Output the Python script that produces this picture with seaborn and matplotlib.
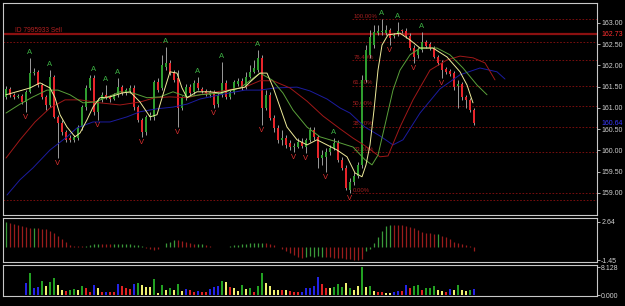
import numpy as np
import pandas as pd
import matplotlib
matplotlib.use("Agg")
import matplotlib.pyplot as plt
import seaborn as sns

# ---------------- data ----------------
opens = [161.26, 161.45, 161.31, 161.26, 161.28, 161.14, 161.38, 161.82, 161.85, 161.54,
         161.26, 161.07, 161.73, 160.79, 160.65, 160.44, 160.29, 160.25, 160.29, 160.55,
         161.02, 161.47, 161.71, 160.91, 161.19, 161.31, 161.26, 161.21, 161.31, 161.49,
         161.35, 161.40, 161.47, 161.02, 160.72, 160.44, 160.79, 160.79, 161.61, 161.47,
         161.96, 162.06, 161.82, 161.71, 161.00, 161.24, 161.49, 161.38, 161.59, 161.45,
         161.40, 161.31, 161.38, 161.09, 161.31, 161.59, 161.26, 161.38, 161.56, 161.64,
         161.49, 161.73, 161.85, 161.89, 162.18, 161.00, 161.31, 160.76, 160.53, 160.25,
         160.29, 160.18, 160.08, 160.08, 160.20, 160.08, 160.25, 160.48, 160.32, 159.82,
         159.85, 159.96, 160.06, 160.18, 159.78, 159.59, 159.07, 159.26, 159.40, 159.66,
         161.66, 162.25, 162.48, 162.76, 162.79, 162.76, 162.84, 162.69, 162.74, 162.81,
         162.81, 162.69, 162.41, 162.25, 162.36, 162.55, 162.51, 162.41, 162.20, 162.06,
         161.92, 161.87, 161.82, 161.52, 161.56, 161.26, 161.19, 160.95]
closes = [161.45, 161.31, 161.26, 161.28, 161.14, 161.38, 161.82, 161.85, 161.54, 161.26,
          161.07, 161.73, 160.79, 160.65, 160.44, 160.25, 160.25, 160.32, 160.55, 161.02,
          161.47, 161.71, 160.91, 161.19, 161.31, 161.26, 161.21, 161.31, 161.49, 161.35,
          161.42, 161.47, 161.02, 160.72, 160.44, 160.79, 160.84, 161.61, 161.42, 162.01,
          162.06, 161.82, 161.66, 161.00, 161.24, 161.49, 161.35, 161.59, 161.47, 161.40,
          161.35, 161.38, 161.07, 161.31, 161.59, 161.26, 161.38, 161.61, 161.64, 161.49,
          161.73, 161.85, 161.94, 162.18, 161.00, 161.31, 160.76, 160.53, 160.25, 160.29,
          160.13, 160.08, 160.11, 160.20, 160.11, 160.25, 160.48, 160.32, 159.82, 159.89,
          159.96, 160.06, 160.18, 159.78, 159.59, 159.12, 159.26, 159.40, 159.66, 161.66,
          162.36, 162.67, 162.79, 162.81, 162.81, 162.84, 162.65, 162.72, 162.81, 162.80,
          162.69, 162.41, 162.20, 162.36, 162.55, 162.46, 162.41, 162.20, 162.06, 161.89,
          161.85, 161.80, 161.49, 161.56, 161.26, 161.19, 160.95, 160.65]
highs = [161.52, 161.49, 161.35, 161.33, 161.33, 161.42, 162.18, 161.94, 161.89, 161.59,
         161.31, 161.89, 161.78, 160.84, 160.72, 160.48, 160.36, 160.36, 160.60, 161.07,
         161.54, 161.78, 161.78, 161.24, 161.38, 161.54, 161.31, 161.35, 161.71, 161.54,
         161.47, 161.54, 161.54, 161.07, 160.76, 160.84, 160.91, 161.66, 161.71, 162.25,
         162.44, 162.13, 161.89, 161.89, 161.28, 161.56, 161.56, 161.66, 161.73, 161.49,
         161.45, 161.42, 161.42, 161.35, 162.08, 161.66, 161.42, 161.66, 161.71, 161.71,
         161.85, 162.01, 162.13, 162.36, 162.25, 161.42, 161.38, 160.84, 160.60, 160.48,
         160.36, 160.25, 160.18, 160.29, 160.29, 160.29, 160.55, 160.55, 160.36, 160.01,
         160.06, 160.13, 160.29, 160.25, 159.85, 159.66, 159.35, 159.49, 159.73, 161.78,
         162.48, 162.84, 162.95, 162.95, 163.09, 162.95, 162.88, 162.76, 163.02, 162.86,
         162.88, 162.76, 162.48, 162.44, 162.79, 162.60, 162.55, 162.46, 162.25, 162.13,
         161.96, 161.92, 161.87, 161.66, 161.61, 161.31, 161.24, 161.00]
lows = [161.21, 161.26, 161.21, 161.24, 161.09, 160.91, 161.35, 161.78, 161.49, 161.21,
        160.95, 161.02, 160.76, 159.82, 160.36, 160.20, 160.20, 160.20, 160.25, 160.48,
        160.95, 161.42, 160.84, 160.72, 161.14, 161.21, 161.14, 161.19, 161.26, 161.31,
        161.31, 161.35, 160.95, 160.67, 160.32, 160.36, 160.72, 160.72, 161.38, 161.42,
        161.89, 161.78, 161.61, 160.55, 160.95, 161.19, 161.31, 161.33, 161.42, 161.35,
        161.28, 161.26, 161.00, 161.02, 161.26, 161.21, 161.21, 161.33, 161.52, 161.42,
        161.45, 161.71, 161.82, 161.85, 160.60, 160.95, 160.72, 160.44, 160.18, 160.13,
        160.06, 160.01, 159.96, 160.06, 160.06, 159.94, 160.20, 160.25, 159.59, 159.66,
        159.49, 159.89, 160.01, 159.73, 159.54, 159.07, 158.99, 159.19, 159.35, 159.59,
        161.61, 162.18, 162.41, 162.72, 162.72, 162.72, 162.48, 162.65, 162.69, 162.76,
        162.65, 162.36, 162.06, 162.18, 162.32, 162.41, 162.36, 162.18, 162.01, 161.71,
        161.80, 161.75, 161.42, 161.00, 161.19, 161.00, 160.91, 160.60]

up_fractals = [6, 11, 22, 25, 28, 40, 48, 54, 63, 82, 94, 98, 104]
down_fractals = [5, 13, 23, 34, 43, 52, 64, 72, 75, 80, 86, 96, 102, 109]

# moving-average lines (bar index, price)
fast_x = [0, 6, 8.5, 11, 12.25, 13.5, 15.25, 17.25, 18.5, 20.25, 21.75, 23.5, 26, 29, 31, 33.5, 36,
          37.75, 39.75, 41, 42.75, 44, 45.25, 47.75, 51, 53.5, 56, 59.75, 61, 63.5, 65.25, 66.75,
          68.5, 70.25, 72.75, 75.25, 77.75, 80.25, 82.75, 85.25, 87.25, 89, 90, 91, 92, 93, 94,
          95.5, 98.5, 101, 103.5, 106.75, 110.25, 113.5, 115.25, 116.75]
fast_y = [161.31, 161.47, 161.59, 161.47, 161.24, 160.84, 160.55, 160.32, 160.41, 160.72, 161.02,
          161.24, 161.26, 161.35, 161.38, 161.14, 160.79, 160.84, 161.47, 161.85, 161.82, 161.47,
          161.24, 161.38, 161.38, 161.35, 161.42, 161.49, 161.61, 161.82, 161.82, 161.49, 161.02,
          160.55, 160.25, 160.13, 160.25, 160.13, 160.01, 159.85, 159.47, 159.38, 159.66, 160.13,
          160.95, 161.89, 162.48, 162.72, 162.76, 162.60, 162.41, 162.41, 162.20, 161.85, 161.54,
          161.12]
lips_x = [0, 3.5, 6.75, 10.25, 13, 16, 19.25, 22.25, 25.5, 28.5, 31.75, 35.25, 38.5, 41.75, 45.25,
          48.5, 53.5, 58.5, 63.5, 66.5, 69.25, 71.75, 75.25, 78.5, 82.75, 86.75, 89.75, 91.5, 93,
          94.75, 96.75, 98.5, 101, 103.5, 107.75, 111, 114.25, 117.75, 120.25]
lips_y = [160.88, 161.09, 161.26, 161.42, 161.42, 161.31, 161.12, 161.14, 161.26, 161.38, 161.35,
          161.24, 161.26, 161.38, 161.26, 161.31, 161.35, 161.47, 161.82, 161.66, 161.35, 160.95,
          160.55, 160.32, 160.20, 160.08, 159.78, 159.66, 159.89, 160.60, 161.42, 161.89, 162.25,
          162.41, 162.41, 162.25, 161.94, 161.54, 161.31]
teeth_x = [0, 3.5, 7.25, 11, 14.75, 18.5, 23.5, 28.5, 33.5, 37.25, 41, 45.25, 48.5, 52.75, 59.75,
           63.5, 66.75, 71, 75.25, 79.25, 83.5, 86.75, 89.75, 93.5, 95.5, 98.5, 101.75, 106,
           110.25, 113.5, 116.75, 119.75, 122.25]
teeth_y = [159.82, 160.25, 160.67, 161.00, 161.19, 161.19, 161.12, 161.07, 161.14, 161.24, 161.26,
           161.24, 161.31, 161.38, 161.49, 161.64, 161.64, 161.47, 161.16, 160.81, 160.51, 160.29,
           160.11, 159.85, 159.87, 160.55, 161.19, 161.89, 162.13, 162.22, 162.18, 162.06, 161.66]
jaw_x = [0.25, 3.5, 6.75, 11, 15.25, 17.75, 21.75, 26, 30.25, 33.5, 37.75, 41.75, 45.25, 48.5, 53.5,
         59.75, 63.5, 67.25, 72.75, 76, 80.25, 83.5, 86, 89.75, 93.5, 96.75, 99.25, 103.5, 108.5,
         113.5, 118.5, 122.75, 124.75]
jaw_y = [158.95, 159.31, 159.59, 160.01, 160.32, 160.53, 160.67, 160.67, 160.79, 160.91, 160.98,
         161.02, 161.09, 161.21, 161.31, 161.42, 161.42, 161.47, 161.49, 161.40, 161.21, 161.00,
         160.88, 160.55, 160.34, 160.13, 160.25, 160.88, 161.45, 161.78, 161.94, 161.85, 161.68]

order_price = 162.73
order_label = "ID 7995933 Sell"
bid_price = 160.64
stop_levels = [162.55, 158.84]
fib_high = 163.09
fib_low = 158.99
fib_pcts = [100.0, 76.4, 61.8, 50.0, 38.2, 23.6, 0.0]
fib_start = 86.5

price_ticks = [163.0, 162.5, 162.0, 161.5, 161.0, 160.5, 160.0, 159.5, 159.0]

osc_values = [2.65, 2.54, 2.40, 2.30, 2.19, 2.10, 2.00, 1.95, 1.94, 1.90,
              1.84, 1.70, 1.45, 1.10, 0.80, 0.50, 0.15, 0.05, 0.05, 0.05,
              0.10, 0.20, 0.25, 0.30, 0.30, 0.28, 0.25, 0.25, 0.25, 0.25,
              0.25, 0.25, 0.22, 0.15, 0.05, -0.10, -0.28, -0.35, -0.20, 0.02,
              0.35, 0.55, 0.70, 0.75, 0.65, 0.50, 0.35, 0.28, 0.25, 0.25,
              0.18, 0.07, 0.02, 0.02, 0.02, 0.02, 0.07, 0.15, 0.18, 0.25,
              0.25, 0.35, 0.35, 0.40, 0.42, 0.35, 0.28, 0.18, -0.07, -0.28,
              -0.50, -0.71, -0.88, -1.06, -1.24, -1.06, -1.00, -1.06, -1.00, -1.06,
              -1.10, -1.10, -1.15, -1.20, -1.20, -1.30, -1.35, -1.40, -1.40, -1.30,
              -0.50, -0.20, 0.35, 1.06, 1.70, 2.19, 2.30, 2.35, 2.35, 2.30,
              2.19, 2.12, 1.94, 1.77, 1.59, 1.50, 1.41, 1.35, 1.30, 1.13,
              0.99, 0.78, 0.53, 0.42, 0.28, 0.18, 0.03, -0.50]
osc_dirs = list("grrrrrrgrr" "rrrrrrrrrr" "ggggrrrggg" "gggggrrrrg"
                "gggrrrrrgg" "rrrrrggggg" "gggggrrrrr" "rrrrrggggg"
                "rrrrrrrrrr" "gggggggrrr" "rrrrrrrrgr" "rrrrrrrr")
osc_ticks = [2.64, -1.45]

vol_values = [0.0, 0.0, 0.0, 0.0, 0.0, 3.6, 6.6, 2.2, 2.4, 4.2,
              2.6, 3.9, 5.1, 2.9, 1.5, 1.3, 1.5, 1.7, 1.5, 2.5,
              2.0, 1.0, 2.9, 2.2, 1.0, 1.0, 1.0, 0.8, 3.1, 2.6,
              2.2, 1.7, 3.2, 3.6, 2.9, 2.3, 2.3, 4.6, 0.7, 2.9,
              1.5, 2.0, 1.5, 3.2, 1.2, 1.7, 1.5, 0.8, 1.2, 1.0,
              0.8, 1.8, 2.3, 2.6, 4.1, 3.9, 2.3, 2.0, 1.2, 2.9,
              1.8, 2.0, 1.0, 2.5, 6.6, 3.6, 2.6, 1.5, 1.5, 1.5,
              1.5, 1.2, 1.0, 0.8, 1.0, 2.2, 2.2, 2.6, 5.4, 3.2,
              2.0, 2.0, 2.3, 3.2, 2.3, 3.6, 2.0, 1.5, 2.5, 8.128,
              2.3, 2.5, 1.3, 1.0, 1.0, 0.7, 0.7, 1.0, 1.2, 1.2,
              2.9, 2.2, 2.6, 2.9, 1.5, 2.0, 2.2, 2.6, 1.5, 1.2,
              1.0, 1.8, 1.5, 2.9, 1.5, 1.2, 1.5, 1.7]
vol_kinds = list("yyyyybgbbg" "yggyyrggyg" "rrbyrbrrbr" "rrbgyyygyg"
                 "ygygybrrbr" "rbbbgyryyg" "ygrggyyyyr" "yrrrbbbbbr"
                 "rygggygyyg" "ygyrryybbr" "brggrgggyy" "rbygyygb")
vol_ticks = [8.128, 0.0]

# ---------------- style ----------------
sns.set_theme(style="dark", rc={"axes.facecolor": "black", "figure.facecolor": "black"})
plt.rcParams["font.family"] = ["Liberation Sans", "DejaVu Sans"]

BULL = "#2f9e2f"
BEAR = "#e8252b"
WICK = "#b4b4b4"
FRAME = "#c8c8c8"
TXT = "#d0d0d0"
DARKRED = "#8b1010"
LBL = 5.0

W, H = 625, 306
fig = plt.figure(figsize=(W / 100, H / 100), dpi=100, facecolor="black")


def rect(x0, y0, x1, y1):
    return [x0 / W, 1 - y1 / H, (x1 - x0) / W, (y1 - y0) / H]


ax1 = fig.add_axes(rect(3, 3, 597, 215))
ax2 = fig.add_axes(rect(3, 218, 597, 262))
ax3 = fig.add_axes(rect(3, 265, 597, 296))

XMIN, XMAX = -0.75, 147.75
for ax in (ax1, ax2, ax3):
    ax.set_facecolor("black")
    ax.set_xlim(XMIN, XMAX)
    ax.grid(False)
    for sp in ax.spines.values():
        sp.set_color(FRAME)
        sp.set_linewidth(0.8)
    ax.yaxis.tick_right()
    ax.tick_params(axis="y", colors=TXT, labelsize=LBL, length=2, width=0.6, pad=1, direction="out")
    ax.tick_params(axis="x", bottom=False, labelbottom=False)

# ---------------- main price panel ----------------
x = np.arange(len(closes))
o = np.array(opens)
c = np.array(closes)
is_up = c >= o
ax1.vlines(x, lows, highs, color=WICK, lw=0.6, zorder=3)
body_bottom = np.minimum(o, c)
body_h = np.maximum(np.abs(c - o), 0.025)
ax1.bar(x, body_h, bottom=body_bottom, width=0.72,
        color=np.where(is_up, BULL, BEAR), linewidth=0, zorder=4)

lines = [(jaw_x, jaw_y, "#1c1ca0"), (teeth_x, teeth_y, "#a01818"),
         (lips_x, lips_y, "#5aa03a"), (fast_x, fast_y, "#f0ec9a")]
for lx, ly, col in lines:
    df = pd.DataFrame({"bar": lx, "price": ly})
    sns.lineplot(data=df, x="bar", y="price", ax=ax1, color=col, linewidth=0.7,
                 estimator=None, sort=False, legend=False, zorder=5)

for i in up_fractals:
    ax1.text(i, highs[i] + 0.05, "A", color="#3cb043", fontsize=5.5, ha="center",
             va="bottom", zorder=6)
for i in down_fractals:
    ax1.text(i, lows[i] - 0.05, "V", color="#e03030", fontsize=5.5, ha="center",
             va="top", zorder=6)

# order line and stop lines
ax1.axhline(order_price, color=DARKRED, lw=1.6, zorder=2)
ax1.text(2.25, order_price + 0.02, order_label, color="#b02020", fontsize=4.8,
         ha="left", va="bottom", zorder=6)
for lv in stop_levels:
    ax1.axhline(lv, color=DARKRED, lw=0.6, linestyle=(0, (2, 2)), zorder=1)

# fibonacci levels
for p in fib_pcts:
    lv = fib_low + (fib_high - fib_low) * p / 100.0
    ax1.hlines(lv, fib_start, XMAX, colors=DARKRED, lw=0.6, linestyles=(0, (2, 2)), zorder=1)
    ax1.text(fib_start + 0.3, lv + 0.01, f"{p:.2f}%", color="#a52020", fontsize=4.3,
             ha="left", va="bottom", zorder=2)

ax1.set_ylim(158.48, 163.47)
ax1.set_yticks(price_ticks)
ax1.set_yticklabels([f"{v:.2f}" for v in price_ticks])
ax1.set_xlabel("")
ax1.set_ylabel("")
ytr = ax1.get_yaxis_transform()
ax1.text(1.0075, order_price, f"{order_price:.2f}", transform=ytr, color="#ff3030",
         fontsize=LBL, va="center", ha="left", clip_on=False)
ax1.text(1.0075, bid_price, f"{bid_price:.2f}", transform=ytr, color="#3a3aff",
         fontsize=LBL, va="center", ha="left", clip_on=False)

# ---------------- oscillator panel ----------------
osc_col = ["#3a9a3a" if d == "g" else "#9a1c1c" for d in osc_dirs]
ax2.vlines(x, 0, osc_values, colors=osc_col, lw=0.9)
ax2.set_ylim(-1.62, 3.04)
ax2.set_yticks(osc_ticks)
ax2.set_yticklabels([f"{v:.2f}" for v in osc_ticks])

# ---------------- volume panel ----------------
vmap = {"b": "#2424e6", "g": "#22a022", "r": "#e02222", "y": "#f0f070"}
ax3.bar(x, vol_values, width=0.5, color=[vmap[k] for k in vol_kinds], linewidth=0)
ax3.set_ylim(-0.29, 8.8)
ax3.set_yticks(vol_ticks)
ax3.set_yticklabels([f"{v:.3f}" for v in vol_ticks])

fig.savefig("out.png", dpi=100, facecolor="black")
